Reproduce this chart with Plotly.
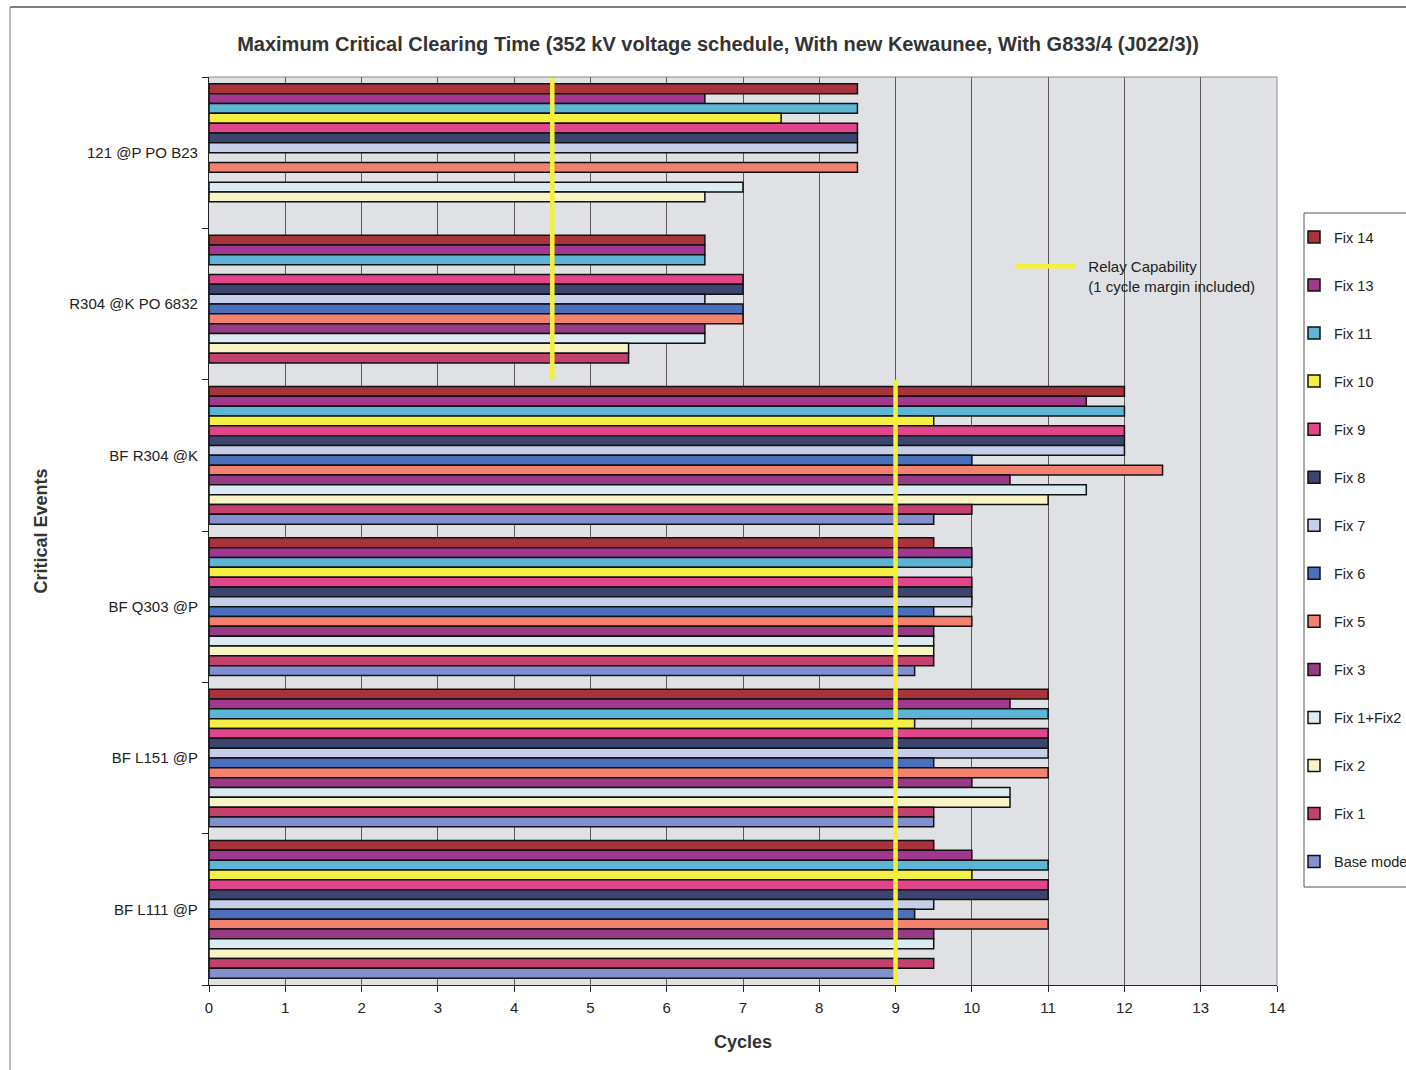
import plotly.graph_objects as go

# Critical events (top to bottom)
events = ["121 @P PO B23", "R304 @K PO 6832", "BF R304 @K",
          "BF Q303 @P", "BF L151 @P", "BF L111 @P"]

# Maximum critical clearing time (cycles) per case, one value per event
fix14 = [8.5, 6.5, 12.0, 9.5, 11.0, 9.5]
fix13 = [6.5, 6.5, 11.5, 10.0, 10.5, 10.0]
fix11 = [8.5, 6.5, 12.0, 10.0, 11.0, 11.0]
fix10 = [7.5, None, 9.5, 9.0, 9.25, 10.0]
fix9 = [8.5, 7.0, 12.0, 10.0, 11.0, 11.0]
fix8 = [8.5, 7.0, 12.0, 10.0, 11.0, 11.0]
fix7 = [8.5, 6.5, 12.0, 10.0, 11.0, 9.5]
fix6 = [None, 7.0, 10.0, 9.5, 9.5, 9.25]
fix5 = [8.5, 7.0, 12.5, 10.0, 11.0, 11.0]
fix3 = [None, 6.5, 10.5, 9.5, 10.0, 9.5]
fix1_fix2 = [7.0, 6.5, 11.5, 9.5, 10.5, 9.5]
fix2 = [6.5, 5.5, 11.0, 9.5, 10.5, 9.0]
fix1 = [None, 5.5, 10.0, 9.5, 9.5, 9.5]
base_model = [None, None, 9.5, 9.25, 9.5, 9.0]

# Relay capability per event (1 cycle margin included)
relay_capability = [4.5, 4.5, 9.0, 9.0, 9.0, 9.0]

x_ticks = list(range(0, 15))

series = [
    ("Fix 14", fix14, "#a9333a"),
    ("Fix 13", fix13, "#a2378f"),
    ("Fix 11", fix11, "#5db5d6"),
    ("Fix 10", fix10, "#f4ef45"),
    ("Fix 9", fix9, "#e1458c"),
    ("Fix 8", fix8, "#3b456f"),
    ("Fix 7", fix7, "#c6cfe9"),
    ("Fix 6", fix6, "#4a6fbd"),
    ("Fix 5", fix5, "#f2816f"),
    ("Fix 3", fix3, "#983b86"),
    ("Fix 1+Fix2", fix1_fix2, "#dcebf1"),
    ("Fix 2", fix2, "#f8f4c6"),
    ("Fix 1", fix1, "#c3416d"),
    ("Base model", base_model, "#8290d2"),
]

FONT = "Liberation Sans, Arial, sans-serif"
positions = list(range(len(events)))


def px_x(px):
    """Horizontal pixel -> paper fraction of the plot area."""
    return (px - 209) / 1068


def px_y(py):
    """Vertical pixel -> paper fraction of the plot area."""
    return (985 - py) / 908


fig = go.Figure()
for i, (name, vals, color) in enumerate(series):
    fig.add_trace(go.Bar(
        name=name, y=positions, x=vals, orientation="h",
        marker=dict(color=color, line=dict(color="#111111", width=1.5)),
        legendgroup=f"g{i}", legend="legend",
    ))

# Relay capability drawn as one vertical segment spanning each event band
rx, ry = [], []
for pos, val in zip(positions, relay_capability):
    rx += [val, val, None]
    ry += [pos - 0.5, pos + 0.5, None]
fig.add_trace(go.Scatter(
    x=rx, y=ry, mode="lines",
    name="&nbsp;&nbsp;Relay Capability<br>&nbsp;&nbsp;(1 cycle margin included)",
    line=dict(color="#f3ef3a", width=4.5), legend="legend2", connectgaps=False,
))

fig.update_layout(
    width=1406, height=1070,
    margin=dict(l=209, r=129, t=77, b=85, autoexpand=False),
    paper_bgcolor="white", plot_bgcolor="#dfe1e4",
    barmode="group", bargap=0.09, bargroupgap=0,
    font=dict(family=FONT, size=15, color="#222222"),
    title=dict(
        text="<b>Maximum Critical Clearing Time (352 kV voltage schedule, With new Kewaunee, With G833/4 (J022/3))</b>",
        x=0.5107, xref="container", xanchor="center",
        y=1 - 44 / 1070, yref="container", yanchor="middle",
        font=dict(family=FONT, size=20, color="#333333"),
    ),
    legend=dict(
        x=px_x(1294), y=px_y(221), xanchor="left", yanchor="top",
        borderwidth=0, bgcolor="rgba(0,0,0,0)",
        traceorder="grouped", tracegroupgap=26.2,
        font=dict(family=FONT, size=14.5, color="#222222"),
    ),
    legend2=dict(
        x=px_x(1010), y=px_y(250), xanchor="left", yanchor="top",
        bgcolor="rgba(0,0,0,0)", borderwidth=0, itemwidth=60, valign="top",
        font=dict(family=FONT, size=15, color="#222222"),
    ),
    xaxis=dict(
        range=[0, 14], tickvals=x_ticks, ticks="outside", ticklen=6,
        tickcolor="#222222", showline=True, linecolor="#222222", linewidth=1.2,
        showgrid=True, gridcolor="#5a5a5a", gridwidth=1, zeroline=False,
        ticklabelstandoff=3,
        title=dict(text="<b>Cycles</b>", standoff=20,
                   font=dict(family=FONT, size=18, color="#333333")),
    ),
    yaxis=dict(
        range=[len(events) - 0.5, -0.5], tickvals=positions, ticktext=events,
        ticks="", showline=True, linecolor="#222222", linewidth=1.2,
        showgrid=False, zeroline=False, ticklabelstandoff=7,
        minor=dict(tickvals=[p - 0.5 for p in positions] + [len(events) - 0.5],
                   ticks="outside", ticklen=6, tickcolor="#222222", showgrid=False),
        title=dict(text="<b>Critical Events</b>", standoff=16,
                   font=dict(family=FONT, size=18, color="#333333")),
    ),
    shapes=[
        # plot area border (top and right)
        dict(type="line", xref="paper", yref="paper", x0=0, x1=1, y0=1, y1=1,
             line=dict(color="#8a8a8a", width=1)),
        dict(type="line", xref="paper", yref="paper", x0=1, x1=1, y0=0, y1=1,
             line=dict(color="#8a8a8a", width=1)),
        # legend frame
        dict(type="rect", xref="paper", yref="paper",
             x0=px_x(1304), x1=px_x(1460), y0=px_y(887), y1=px_y(213),
             line=dict(color="#555555", width=1)),
        # page frame
        dict(type="line", xref="paper", yref="paper",
             x0=px_x(10), x1=1.3, y0=px_y(7), y1=px_y(7),
             line=dict(color="#555555", width=1.5)),
        dict(type="line", xref="paper", yref="paper",
             x0=px_x(10), x1=px_x(10), y0=px_y(7), y1=-0.2,
             line=dict(color="#777777", width=1)),
    ],
)

fig.write_html("out.html")
